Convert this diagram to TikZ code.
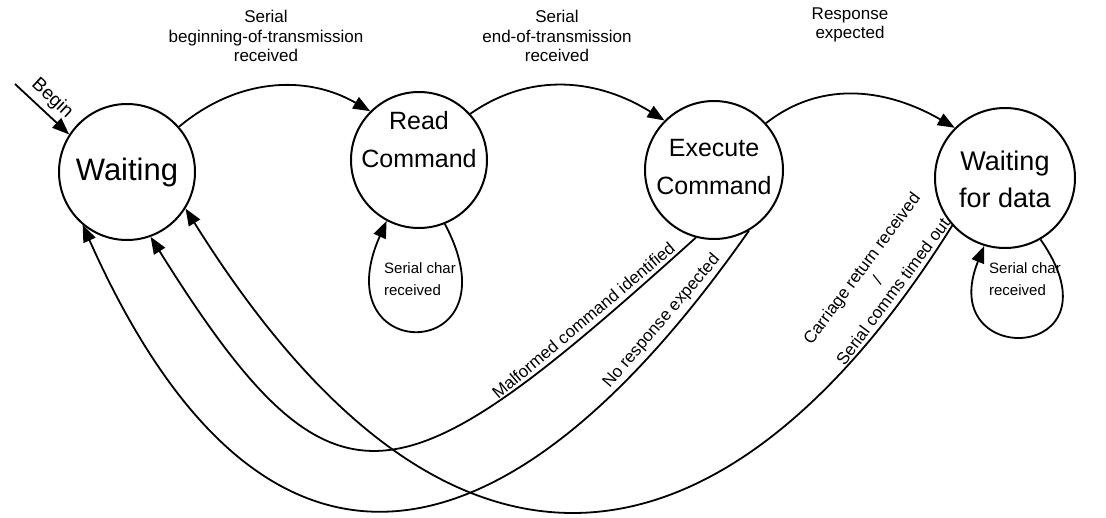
\documentclass[tikz,border=0pt]{standalone}
\usepackage{fontspec}
\setmainfont{Liberation Sans}
\usetikzlibrary{positioning,arrows.meta}

\begin{document}
\begin{tikzpicture}[x=1pt,y=1pt,
    state/.style={draw, circle, line width=2pt, inner sep=0pt},
    stxt/.style={align=center, inner sep=0pt, font=\fontsize{25}{38}\selectfont},
    lbl/.style={align=center, inner sep=2pt, font=\fontsize{17}{19.5}\selectfont},
    onarc/.style={lbl, sloped, above, inner sep=5pt},
    small/.style={align=left, inner sep=0pt, font=\fontsize{15}{22}\selectfont},
    trans/.style={line width=1.8pt, -{Triangle[length=17pt,width=13pt]}}]
    \useasboundingbox (0,0) rectangle (1106,-517);

    % states
    \node[state, minimum size=136pt, font=\fontsize{31}{36}\selectfont] (wait) at (127,-172) {Waiting};
    \node[state, minimum size=136pt] (read) at (419,-160) {};
    \node[stxt] (readtxt) at (419,-140) {Read\\Command};
    \node[state, minimum size=138pt] (exec) at (714,-170) {};
    \node[stxt] (exectxt) at (714,-167) {Execute\\Command};
    \node[state, minimum size=140pt] (data) at (1005,-178) {};
    \node[stxt, font=\fontsize{27}{37}\selectfont] (datatxt) at (1005,-179) {Waiting\\for data};

    % entry
    \coordinate (start) at (15,-84);
    \draw[trans] (start) -- node[onarc, font=\fontsize{19}{21}\selectfont] {Begin} (wait.147);

    % forward transitions
    \draw[trans] (wait.41) to[out=40, in=150] (read.135);
    \draw[trans] (read.42) to[out=35, in=148] (exec.135);
    \draw[trans] (exec.42) to[out=38, in=150] (data.135);
    \node[lbl] (botx) at (266,-36) {Serial\\beginning-of-transmission\\received};
    \node[lbl] (eotx) at (557,-36) {Serial\\end-of-transmission\\received};
    \node[lbl] (resp) at (850,-25) {Response\\expected};

    % self loops
    \draw[trans] (read.-68) .. controls +(-62:160) and +(-114:160) .. (read.-118);
    \node[small] (rchar) at (420,-279) {Serial char\\received};
    \draw[trans] (data.-60) .. controls +(-55:150) and +(-112:135) .. (data.-107);
    \node[small] (dchar) at (1025,-279) {Serial char\\received};

    % back to waiting
    \draw[trans] (exec.-105) .. controls +(222:400) and +(-58:350) .. node[onarc, pos=0.13] (malf) {Malformed command identified} (wait.-70);
    \draw[trans] (exec.-60) .. controls +(235:450) and +(-66:420) .. node[onarc, pos=0.10] (nresp) {No response expected} (wait.-130);
    \draw[trans] (data.-138) .. controls +(238:380) and +(-58:540) .. node[onarc, pos=0.08] (crlf) {Carriage return received\\/\\Serial comms timed out} (wait.-32);
\end{tikzpicture}
\end{document}
